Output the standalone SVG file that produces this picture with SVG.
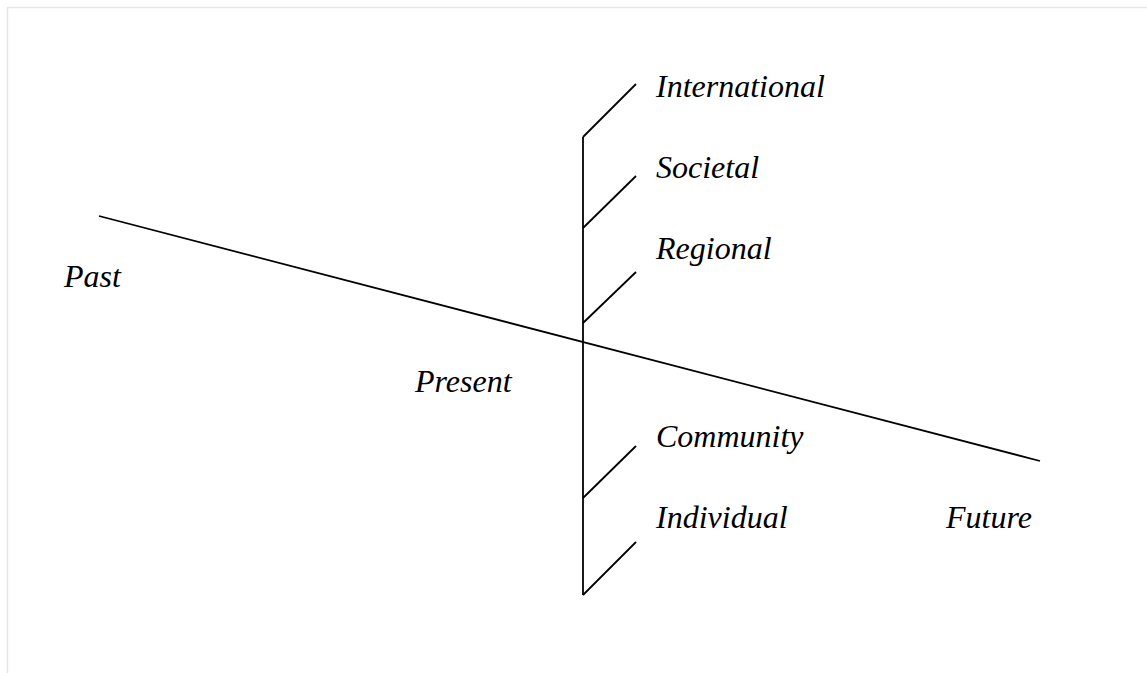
<svg xmlns="http://www.w3.org/2000/svg" width="1147" height="673" viewBox="0 0 1147 673">
<style>
.ln{stroke:#000;stroke-width:1.8;fill:none}
.lb{font-family:"Liberation Serif","Times New Roman",serif;font-style:italic;font-size:32px;fill:#000}
.bd{stroke:#e6e6e6;stroke-width:1.5;fill:none}
</style>
<rect width="1147" height="673" fill="#fff"/>
<path class="bd" d="M7.5 673 V7.5 H1147"/>
<g id="connectors">
<line class="ln" x1="99" y1="216" x2="1040" y2="461"/>
<line class="ln" x1="583" y1="137" x2="583" y2="595"/>
<line class="ln" x1="583" y1="137" x2="636" y2="84"/>
<line class="ln" x1="583" y1="228" x2="636" y2="176"/>
<line class="ln" x1="583" y1="323" x2="636" y2="272"/>
<line class="ln" x1="583" y1="498" x2="636" y2="446"/>
<line class="ln" x1="583" y1="595" x2="636" y2="542"/>
</g>
<g id="international"><text class="lb" x="656" y="97">International</text></g>
<g id="societal"><text class="lb" x="656" y="178">Societal</text></g>
<g id="regional"><text class="lb" x="656" y="259">Regional</text></g>
<g id="past"><text class="lb" x="64" y="287">Past</text></g>
<g id="present"><text class="lb" x="415" y="392">Present</text></g>
<g id="community"><text class="lb" x="656" y="447">Community</text></g>
<g id="individual"><text class="lb" x="656" y="528">Individual</text></g>
<g id="future"><text class="lb" x="946" y="528">Future</text></g>
</svg>
